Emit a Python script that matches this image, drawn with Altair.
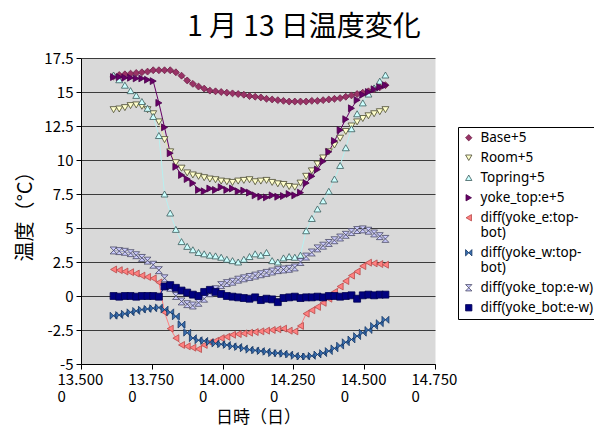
import altair as alt
import pandas as pd

# time axis (days)
times = [13.615, 13.635, 13.655, 13.675, 13.695, 13.715, 13.735, 13.755, 13.775, 13.795,
         13.815, 13.835, 13.855, 13.875, 13.895, 13.915, 13.935, 13.955, 13.975, 13.995,
         14.015, 14.035, 14.055, 14.075, 14.095, 14.115, 14.135, 14.155, 14.175, 14.195,
         14.215, 14.235, 14.255, 14.275, 14.295, 14.315, 14.335, 14.355, 14.375, 14.395,
         14.415, 14.435, 14.455, 14.475, 14.495, 14.515, 14.535, 14.555, 14.575]

base5 = [16.15, 16.25, 16.3, 16.35, 16.4, 16.45, 16.5, 16.6, 16.6, 16.6,
         16.6, 16.45, 16.2, 15.85, 15.6, 15.4, 15.25, 15.1, 15.05, 15.0,
         14.95, 14.9, 14.85, 14.8, 14.7, 14.65, 14.6, 14.5, 14.45, 14.4,
         14.35, 14.3, 14.3, 14.3, 14.3, 14.35, 14.35, 14.4, 14.45, 14.5,
         14.55, 14.65, 14.75, 14.85, 14.95, 15.05, 15.2, 15.35, 15.5]

room5 = [13.7, 13.75, 13.85, 14.0, 14.05, 13.95, 13.7, 13.4, 12.8, 11.5,
         10.6, 9.8, 9.4, 9.05, 8.9, 8.8, 8.7, 8.6, 8.55, 8.45,
         8.4, 8.35, 8.45, 8.5, 8.55, 8.4, 8.45, 8.5, 8.35, 8.25,
         8.2, 8.05, 8.0, 8.3, 8.8, 9.2, 9.7, 10.15, 10.6, 11.1,
         11.6, 12.1, 12.5, 12.8, 13.05, 13.25, 13.4, 13.55, 13.7]

topring5 = [16.25, 15.9, 15.5, 15.1, 14.75, 14.3, 13.8, 13.2, 11.8, 7.5,
            6.1, 4.9, 4.0, 3.65, 3.4, 3.2, 3.1, 3.0, 2.95, 2.85,
            2.7, 2.6, 2.5, 2.7, 2.9, 3.1, 3.0, 3.2, 2.6, 2.5,
            2.8, 2.9, 2.85, 3.0, 4.8, 5.7, 6.4, 7.0, 7.7, 8.6,
            9.6, 10.9, 12.3, 13.4, 14.2, 14.85, 15.3, 15.8, 16.25]

yoketop5 = [16.1, 16.1, 16.05, 16.05, 16.0, 16.0, 15.9, 15.8, 14.2, 12.4,
            10.5, 9.5, 8.9, 8.6, 8.3, 7.8, 7.7, 7.9, 7.8, 8.0,
            7.8, 7.9, 7.7, 7.75, 7.6, 7.4, 7.3, 7.25, 7.4, 7.3,
            7.35, 7.5, 7.4, 7.6, 8.3, 8.8, 9.3, 9.9, 10.6, 11.4,
            12.2, 13.0, 13.8, 14.4, 14.8, 15.0, 15.2, 15.35, 15.5]

diff_e = [1.95, 1.9, 1.8, 1.75, 1.65, 1.5, 1.4, 1.3, 1.0, -1.2,
          -2.4, -3.1, -3.6, -3.7, -3.8, -3.9, -3.6, -3.4, -3.3, -3.1,
          -3.0, -2.85, -2.8, -2.75, -2.7, -2.65, -2.6, -2.55, -2.5, -2.45,
          -2.4, -2.55, -2.6, -2.2, -1.3, -1.05, -0.8, -0.5, -0.2, 0.3,
          0.7, 1.1, 1.5, 1.8, 2.2, 2.45, 2.4, 2.35, 2.3]

diff_w = [-1.45, -1.4, -1.3, -1.2, -1.1, -1.0, -0.95, -0.9, -0.85, -1.0,
          -1.2, -1.5, -2.1, -2.7, -3.1, -3.25, -3.3, -3.4, -3.5, -3.55,
          -3.6, -3.7, -3.75, -3.85, -3.95, -4.0, -4.05, -4.1, -4.2, -4.2,
          -4.25, -4.3, -4.4, -4.45, -4.45, -4.4, -4.3, -4.2, -4.05, -3.85,
          -3.65, -3.4, -3.2, -2.95, -2.7, -2.5, -2.2, -2.0, -1.75]

diff_top = [3.35, 3.3, 3.25, 3.15, 3.0, 2.8, 2.6, 2.3, 1.9, 1.3,
            0.6, 0.0, -0.4, -0.6, -0.7, -0.5, -0.2, 0.2, 0.5, 0.8,
            0.95, 1.05, 1.2, 1.3, 1.4, 1.5, 1.6, 1.7, 1.8, 1.9,
            1.95, 2.0, 2.1, 2.5, 2.9, 3.2, 3.5, 3.7, 3.9, 4.1,
            4.3, 4.5, 4.7, 4.85, 4.9, 4.8, 4.6, 4.4, 4.2]

diff_bot = [0.0, -0.05, 0.0, 0.0, -0.05, 0.0, 0.0, 0.0, -0.05, 0.7,
            0.8, 0.6, 0.4, 0.25, 0.1, 0.0, 0.3, 0.45, 0.3, 0.15,
            0.0, -0.05, -0.1, -0.15, -0.2, -0.1, -0.3, -0.2, -0.25, -0.45,
            -0.15, -0.1, -0.05, -0.15, -0.1, -0.1, -0.05, -0.1, 0.0, 0.0,
            -0.05, 0.0, 0.05, -0.2, 0.05, 0.1, 0.05, 0.1, 0.1]

names = ["Base+5", "Room+5", "Topring+5", "yoke_top:e+5",
         "diff(yoke_e:top-bot)", "diff(yoke_w:top-bot)",
         "diff(yoke_top:e-w)", "diff(yoke_bot:e-w)"]
series = [base5, room5, topring5, yoketop5, diff_e, diff_w, diff_top, diff_bot]

fills = ["#993366", "#FFFFCC", "#CCFFFF", "#660066", "#FF8080", "#3A6FB0", "#CCCCFF", "#000080"]
strokes = ["#6E2048", "#4A4A30", "#3A5A5A", "#4A004A", "#B84A4A", "#173765", "#4A4A66", "#000050"]
lines = ["#993366", "#E8E8A0", "#B8F0F0", "#660066", "#FF8080", "#3A6FB0", "#A0A0D0", "#000080"]
shapes = ["diamond", "triangle-down", "triangle-up", "triangle-right", "triangle-left",
          "M-1,-1L1,1L1,-1L-1,1Z", "M-1,-1L1,-1L-1,1L1,1Z", "square"]

xticks = [13.5, 13.75, 14.0, 14.25, 14.5, 14.75]
yticks = [-5, -2.5, 0, 2.5, 5, 7.5, 10, 12.5, 15, 17.5]

rows = []
for k, (n, vals) in enumerate(zip(names, series)):
    for t, v in zip(times, vals):
        rows.append({"t": t, "v": v, "s": n, "k": k})
df = pd.DataFrame(rows)

FONT = "Noto Sans CJK JP"

x = alt.X("t:Q",
          scale=alt.Scale(domain=[13.5, 14.75], nice=False, zero=False),
          axis=alt.Axis(values=xticks, title="日時（日）", grid=False,
                        labelExpr="[substring(format(datum.value, '.3f'), 0, 6), '0']",
                        labelAlign="left", labelOffset=-24, labelPadding=3,
                        labelFontSize=15, labelLineHeight=17,
                        titleFontSize=17, titleY=45, titleBaseline="top",
                        tickSize=5))
y = alt.Y("v:Q",
          scale=alt.Scale(domain=[-5, 17.5], nice=False, zero=False),
          axis=alt.Axis(values=yticks, title="温度（°C）", grid=True,
                        labelExpr="'' + datum.value",
                        labelFontSize=15, labelPadding=3,
                        titleFontSize=20, titlePadding=8,
                        tickSize=5))

leg = alt.Legend(title=None, orient="none", legendX=377, legendY=69,
                 strokeColor="black", fillColor="white", padding=4,
                 labelFontSize=13.5, labelFont="Noto Sans", labelLimit=200,
                 labelOffset=5, symbolSize=40, symbolStrokeWidth=0.8,
                 rowPadding=5,
                 labelExpr="datum.label == 'diff(yoke_e:top-bot)' ? ['diff(yoke_e:top-', 'bot)'] : "
                           "datum.label == 'diff(yoke_w:top-bot)' ? ['diff(yoke_w:top-', 'bot)'] : datum.label")

# connecting lines (own colour scale, listed in reverse so it is kept apart from the legend)
line_layer = alt.Chart(df).mark_line(strokeWidth=1).encode(
    x=x, y=y,
    color=alt.Color("s:N", scale=alt.Scale(domain=names[::-1], range=lines[::-1]), legend=None),
    order=alt.Order("t:Q"),
)

point_layer = alt.Chart(df).mark_point(filled=True, size=48, strokeWidth=0.8, opacity=1).encode(
    x=x, y=y,
    fill=alt.Fill("s:N", scale=alt.Scale(domain=names, range=fills), legend=leg),
    stroke=alt.Stroke("s:N", scale=alt.Scale(domain=names, range=strokes), legend=leg),
    shape=alt.Shape("s:N", scale=alt.Scale(domain=names, range=shapes), legend=leg),
    order=alt.Order("k:Q"),
)

chart = alt.layer(line_layer, point_layer).properties(
    width=354, height=306,
    padding={"left": 73, "top": 50, "right": 159, "bottom": 62},
    autosize=alt.AutoSizeParams(type="none"),
    title=alt.TitleParams("1 月 13 日温度変化", fontSize=28, font=FONT, fontWeight="normal",
                          anchor="middle", dx=46, offset=9, color="black"),
).configure(background="white").configure_view(
    fill="#D9D9D9", stroke="transparent"
).configure_axis(
    domainColor="black", tickColor="black", gridColor="#3C3C3C", gridWidth=1,
    labelColor="black", titleColor="black", labelFont=FONT, titleFont=FONT,
    titleFontWeight="normal",
).configure_legend(labelColor="black")

chart.save("out.html", embed_options={"renderer": "svg", "actions": False})
